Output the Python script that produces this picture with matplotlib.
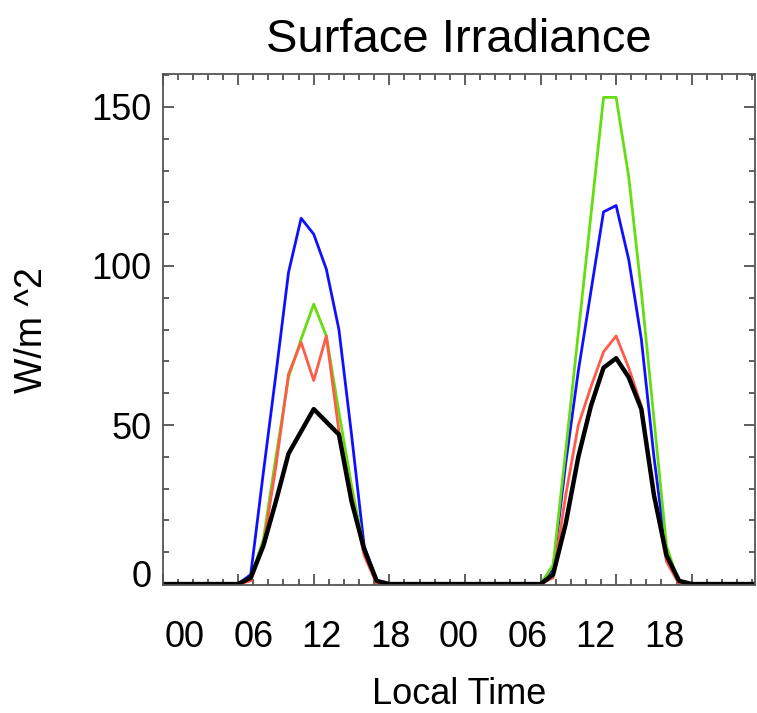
import numpy as np
import matplotlib.pyplot as plt
from matplotlib.ticker import MultipleLocator
from matplotlib.transforms import ScaledTranslation

plt.rcParams['font.family'] = ['Liberation Sans', 'DejaVu Sans']

# hourly values, two days (hour 0..47)
hours = np.arange(48)
blue = [0, 0, 0, 0, 0, 0, 0, 3, 35, 66, 98, 115, 110, 99, 80, 47, 12, 1, 0, 0, 0, 0, 0, 0,
        0, 0, 0, 0, 0, 0, 0, 5, 38, 67, 92, 117, 119, 102, 77, 40, 9, 0, 0, 0, 0, 0, 0, 0]
green = [0, 0, 0, 0, 0, 0, 0, 2, 14, 40, 65, 77, 88, 78, 54, 31, 11, 1, 0, 0, 0, 0, 0, 0,
         0, 0, 0, 0, 0, 0, 0, 6, 42, 79, 116, 153, 153, 128, 92, 52, 12, 0, 0, 0, 0, 0, 0, 0]
red = [0, 0, 0, 0, 0, 0, 0, 1, 12, 37, 66, 76, 64, 78, 48, 28, 9, 0, 0, 0, 0, 0, 0, 0,
       0, 0, 0, 0, 0, 0, 0, 2, 28, 50, 62, 73, 78, 68, 56, 28, 7, 0, 0, 0, 0, 0, 0, 0]
black = [0, 0, 0, 0, 0, 0, 0, 2, 12, 26, 41, 48, 55, 51, 47, 26, 11, 1, 0, 0, 0, 0, 0, 0,
         0, 0, 0, 0, 0, 0, 0, 3, 19, 40, 56, 68, 71, 65, 55, 28, 9, 1, 0, 0, 0, 0, 0, 0]

xticks = [0, 6, 12, 18, 24, 30, 36, 42]
xticklabels = ['00', '06', '12', '18', '00', '06', '12', '18']
yticks = [0, 50, 100, 150]

fig = plt.figure(figsize=(7.57, 7.13), dpi=100)
ax = fig.add_axes([0.2147, 0.1795, 0.7823, 0.7165])

ax.plot(hours, blue, color='#1010ff', lw=2.0)
ax.plot(hours, green, color='#66dd11', lw=2.0)
ax.plot(hours, red, color='#ff5a4a', lw=2.0)
ax.plot(hours, black, color='black', lw=3.2)

ax.set_xlim(0, 47)
ax.set_ylim(-0.3, 160.3)
ax.set_xticks(xticks)
ax.set_xticklabels([])
ax.set_yticks(yticks)
ax.xaxis.set_minor_locator(MultipleLocator(1.2))
ax.yaxis.set_minor_locator(MultipleLocator(10))
ax.tick_params(which='both', direction='in', top=True, right=True,
               color='#444444', width=1.2)
ax.tick_params(which='major', length=8)
ax.tick_params(which='minor', length=4)
ax.tick_params(axis='y', which='major', labelsize=26, pad=8)

# the time labels sit on their own even spacing, a bit right of the ticks
lab_step = 47 / 8.65
for i, lab in enumerate(xticklabels):
    ax.text(1.78 + i * lab_step, -0.103, lab, fontsize=26, ha='center', va='center',
            transform=ax.get_xaxis_transform())

# the "0" label sits a little higher than its tick
for t in ax.get_yticklabels():
    if t.get_text() == '0':
        t.set_transform(t.get_transform() + ScaledTranslation(0, 0.11, fig.dpi_scale_trans))

for s in ax.spines.values():
    s.set_color('#555555')
    s.set_linewidth(1.3)

ax.set_title('Surface Irradiance', fontsize=34, pad=16)
ax.set_xlabel('Local Time', fontsize=26)
ax.set_ylabel('W/m ^2', fontsize=27)
ax.xaxis.set_label_coords(0.5, -0.18)
ax.yaxis.set_label_coords(-0.19, 0.5)

fig.savefig('out.png', dpi=100)
